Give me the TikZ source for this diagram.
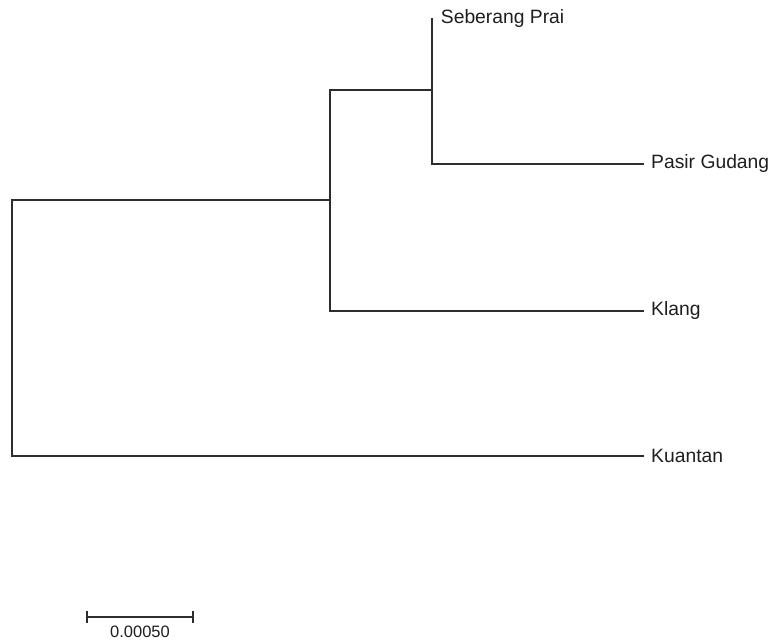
\documentclass[tikz,border=0pt]{standalone}
\usepackage{fontspec}
\setmainfont{Liberation Sans}
\usetikzlibrary{positioning}
\definecolor{treeline}{RGB}{45,45,45}
\definecolor{treetext}{RGB}{30,30,30}
\tikzset{
  branch/.style={line width=1.3pt,color=treeline,line cap=rect},
  taxon/.style={anchor=west,inner sep=0pt,text=treetext,
                font=\fontsize{19.3}{23}\selectfont},
  scalelbl/.style={inner sep=0pt,text=treetext,
                   font=\fontsize{16.5}{20}\selectfont},
}

\begin{document}
\begin{tikzpicture}[x=1pt,y=-1pt]
  \useasboundingbox (0,0) rectangle (773,643);

  % Tips
  \coordinate (tSP) at (432,19);
  \coordinate (tPG) at (643,164);
  \coordinate (tKL) at (643,311);
  \coordinate (tKU) at (643,456);

  % Internal nodes
  \coordinate (root) at (12,200);
  \coordinate (nA)   at (330,200);
  \coordinate (nB)   at (432,90);

  % Branches
  \draw[branch](root) |- (tKU);
  \draw[branch](root) -- (nA);
  \draw[branch](nA)   |- (tKL);
  \draw[branch](nA)   |- (nB);
  \draw[branch](nB)   |- (tPG);
  \draw[branch](nB)   -- (tSP);

  % Labels
  \node[taxon,right=8.7pt of tSP] (SP) {Seberang Prai};
  \node[taxon,right=8pt of tPG]   (PG) {Pasir Gudang};
  \node[taxon,right=8pt of tKL]   (KL) {Klang};
  \node[taxon,right=8pt of tKU]   (KU) {Kuantan};

  % Scale bar
  \coordinate (s0) at (87,617);
  \coordinate (s1) at (193,617);
  \coordinate (sm) at (140,617);
  \draw[branch](s0) -- (s1);
  \draw[branch]([yshift=5pt]s0) -- ([yshift=-5pt]s0);
  \draw[branch]([yshift=5pt]s1) -- ([yshift=-5pt]s1);
  \node[scalelbl,below=9pt of sm] (SL) {0.00050};
\end{tikzpicture}
\end{document}
